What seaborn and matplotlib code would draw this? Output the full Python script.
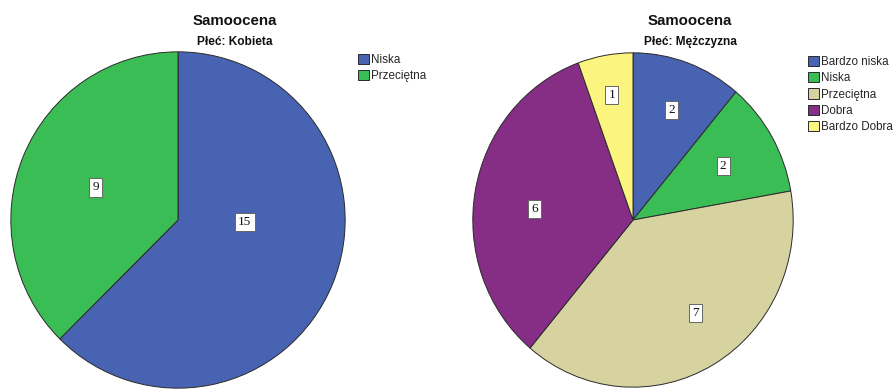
import numpy as np
import matplotlib
matplotlib.use("Agg")
import matplotlib.pyplot as plt
import seaborn as sns

sns.set_theme(style="white")
plt.rcParams["font.family"] = ["Liberation Sans", "DejaVu Sans"]

# Self-assessment counts by sex
title = "Samoocena"
women_subtitle = "Płeć: Kobieta"
women_categories = ["Niska", "Przeciętna"]
women_counts = [15, 9]

men_subtitle = "Płeć: Mężczyzna"
men_categories = ["Bardzo niska", "Niska", "Przeciętna", "Dobra", "Bardzo Dobra"]
men_counts = [2, 2, 7, 6, 1]

# Colours are assigned in category order within each chart
palette = sns.color_palette(["#4863B1", "#3BBD55", "#D6D3A1", "#862E86", "#FBF580"])

W, H = 895, 389
fig = plt.figure(figsize=(W / 100, H / 100), dpi=100)


def px_axes(cx, cy, rx, ry):
    return fig.add_axes([(cx - rx) / W, 1 - (cy + ry) / H, 2 * rx / W, 2 * ry / H])


def draw_pie(ax, categories, counts, label_frac, label_shift):
    colors = palette[:len(categories)]
    wedges, _ = ax.pie(
        counts, colors=colors, startangle=90, counterclock=False, radius=1,
        wedgeprops=dict(edgecolor="#2a2a2a", linewidth=0.7),
    )
    ax.set_xlim(-1.005, 1.005)
    ax.set_ylim(-1.005, 1.005)
    ax.set_aspect("auto")
    ax.axis("off")
    for w, n, f, s in zip(wedges, counts, label_frac, label_shift):
        mid = np.deg2rad((w.theta1 + w.theta2) / 2 + s)
        ax.text(f * np.cos(mid), f * np.sin(mid), str(n), ha="center", va="center",
                fontsize=9.5, family=["Liberation Serif", "DejaVu Serif"], color="#111111",
                bbox=dict(boxstyle="square,pad=0.24", fc="white", ec="#666666", lw=0.7))
    return wedges


ax1 = px_axes(178, 220, 168, 169)
w1 = draw_pie(ax1, women_categories, women_counts, [0.40, 0.53], [21, 1])

ax2 = px_axes(633, 220, 161, 168)
w2 = draw_pie(ax2, men_categories, men_counts, [0.70, 0.65, 0.68, 0.62, 0.76], [0, 0, 5, 4, 0])

for x, sub in [(235, women_subtitle), (690, men_subtitle)]:
    fig.text(x / W, 1 - 21 / H, title, ha="center", va="center",
             fontsize=10.8, fontweight="bold", color="#111111")
    fig.text(x / W, 1 - 42 / H, sub, ha="center", va="center",
             fontsize=8.6, fontweight="bold", color="#111111")

for ax, wedges, cats, (lx, ly) in [(ax1, w1, women_categories, (358, 54)),
                                   (ax2, w2, men_categories, (808, 56))]:
    ax.legend(wedges, cats, loc="upper left", bbox_to_anchor=(lx / W, 1 - ly / H),
              bbox_transform=fig.transFigure, frameon=False, fontsize=8.4,
              handlelength=0.95, handleheight=0.95, handletextpad=0.15,
              labelspacing=0.36, borderpad=0, borderaxespad=0)

fig.savefig("out.png", dpi=100)
